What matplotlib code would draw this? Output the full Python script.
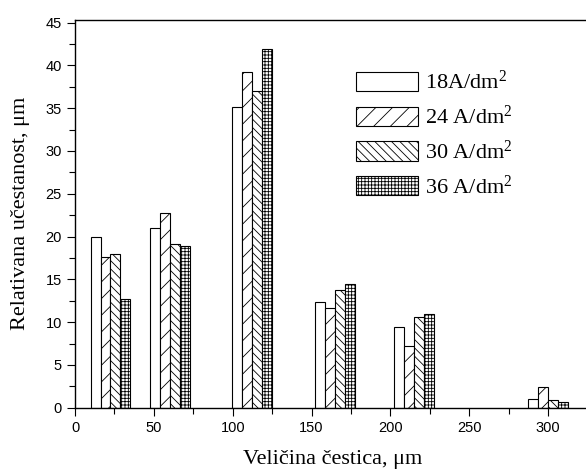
import matplotlib
matplotlib.use('Agg')
import matplotlib.pyplot as plt
import numpy as np

plt.rcParams['hatch.linewidth'] = 0.6
plt.rcParams['mathtext.fontset'] = 'custom'
plt.rcParams['mathtext.rm'] = 'Liberation Serif'
plt.rcParams['mathtext.it'] = 'Liberation Serif:italic'

sizes = [22.5, 60, 112.5, 165, 215, 300]
labels = ['18A/dm$^2$', '24 A/dm$^2$', '30 A/dm$^2$', '36 A/dm$^2$']
h18 = [20.0, 21.0, 35.1, 12.4, 9.4, 1.05]
h24 = [17.6, 22.8, 39.2, 11.6, 7.2, 2.4]
h30 = [18.0, 19.1, 37.0, 13.7, 10.6, 0.85]
h36 = [12.7, 18.9, 41.9, 14.5, 11.0, 0.7]
hatches = ['', '//', '\\\\\\\\', '+++++']

fig = plt.figure(figsize=(5.86, 4.72), dpi=100)
W, H = 586, 472
ax = fig.add_axes([75 / W, 64.3 / H, 552 / W, 387.7 / H])

w = 6.33
series = [h18, h24, h30, h36]
for i, vals in enumerate(series):
    x = np.array(sizes) + (i - 1.5) * w
    ax.bar(x, vals, width=w, color='white', edgecolor='black',
           linewidth=0.8, hatch=hatches[i], label=labels[i])

ax.set_xlim(0, 350)
ax.set_ylim(0, 45.3)
ax.set_xticks(np.arange(0, 301, 50))
ax.set_xticks(np.arange(25, 350, 50), minor=True)
ax.set_yticks(np.arange(0, 46, 5))
ax.set_yticks(np.arange(2.5, 45, 5), minor=True)
ax.tick_params(which='major', direction='out', length=6, width=0.8,
               labelsize=10.5)
ax.tick_params(which='minor', direction='out', length=4, width=0.8)
for lab in ax.get_xticklabels() + ax.get_yticklabels():
    lab.set_fontfamily('Liberation Sans')
for s in ax.spines.values():
    s.set_linewidth(1.0)

ax.set_xlabel('Veličina čestica, μm', fontsize=16, family='Liberation Serif')
ax.set_ylabel('Relativana učestanost, μm', fontsize=16,
              family='Liberation Serif')
ax.xaxis.set_label_coords(0.466, -0.108)
ax.yaxis.set_label_coords(-0.082, 0.5)

ax.legend(loc='upper left', bbox_to_anchor=(356 / W, 1 - 71 / H),
          bbox_transform=fig.transFigure, frameon=False,
          prop={'family': 'Liberation Serif', 'size': 16},
          handlelength=2.8, handleheight=0.95, handletextpad=0.3,
          labelspacing=0.52, borderpad=0, borderaxespad=0)

fig.savefig('out.png', dpi=100)
